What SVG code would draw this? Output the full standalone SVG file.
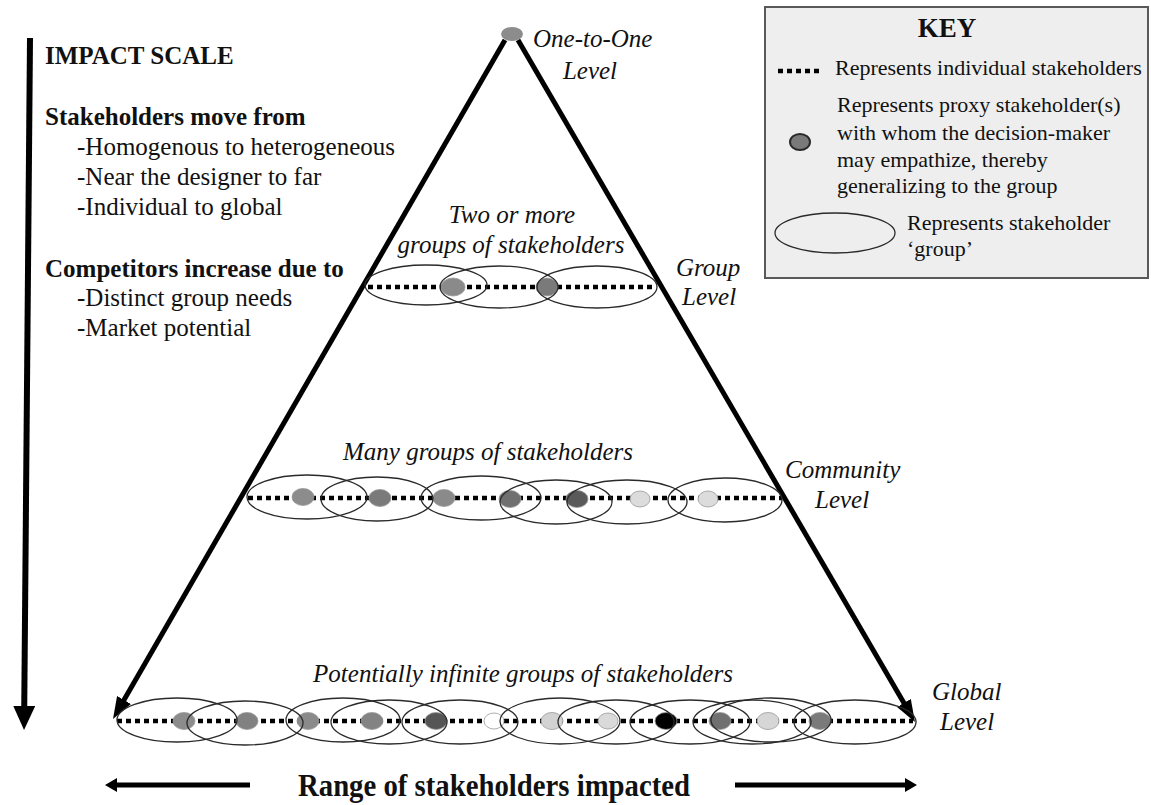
<svg xmlns="http://www.w3.org/2000/svg" width="1151" height="805" viewBox="0 0 1151 805">
  <defs>
    <style>
      .serif { font-family: "Liberation Serif", "Times New Roman", serif; fill: #111; }
      .hd { font-size: 25px; font-weight: bold; }
      .rg { font-size: 25px; }
      .it { font-size: 25px; font-style: italic; }
      .kt { font-size: 22px; }
      .grp { fill: none; stroke: #2a2a2a; stroke-width: 1.3; }
      .ind { fill: none; stroke: #000; stroke-width: 4.5; stroke-dasharray: 5 4; }
      .side { fill: none; stroke: #000; stroke-width: 5; }
      .dot { stroke: #9a9a9a; stroke-width: 0.8; }
    </style>
    <marker id="head" markerUnits="userSpaceOnUse" viewBox="0 0 22 16" refX="5" refY="8" markerWidth="22" markerHeight="16" orient="auto">
      <path d="M0,0 L22,8 L0,16 z" fill="#000"/>
    </marker>
    <marker id="headV" markerUnits="userSpaceOnUse" viewBox="0 0 24 22" refX="5" refY="11" markerWidth="24" markerHeight="22" orient="auto">
      <path d="M0,0 L24,11 L0,22 z" fill="#000"/>
    </marker>
    <marker id="headS" markerUnits="userSpaceOnUse" viewBox="0 0 12 14" refX="3" refY="7" markerWidth="12" markerHeight="14" orient="auto">
      <path d="M0,0 L12,7 L0,14 z" fill="#000"/>
    </marker>
  </defs>

  <rect width="1151" height="805" fill="#fff"/>

  <!-- impact scale arrow and notes -->
  <g id="impact-scale">
    <line x1="30" y1="38" x2="24.2" y2="711" stroke="#000" stroke-width="6" marker-end="url(#headV)"/>
    <text class="serif hd" x="45" y="64">IMPACT SCALE</text>
    <text class="serif hd" x="45" y="125">Stakeholders move from</text>
    <text class="serif rg" x="77" y="155">-Homogenous to heterogeneous</text>
    <text class="serif rg" x="77" y="185">-Near the designer to far</text>
    <text class="serif rg" x="77" y="215">-Individual to global</text>
    <text class="serif hd" x="45" y="277">Competitors increase due to</text>
    <text class="serif rg" x="77" y="306">-Distinct group needs</text>
    <text class="serif rg" x="77" y="336">-Market potential</text>
  </g>

  <!-- pyramid sides -->
  <g id="connectors">
    <line class="side" x1="505" y1="40" x2="121.5" y2="704.3" marker-end="url(#head)"/>
    <line class="side" x1="518" y1="40" x2="906.4" y2="707.3" marker-end="url(#head)"/>
  </g>

  <!-- apex -->
  <g id="level-one">
    <ellipse cx="512" cy="34" rx="11" ry="7" fill="#8c8c8c"/>
    <text class="serif it" x="533" y="47">One-to-One</text>
    <text class="serif it" x="590" y="79" text-anchor="middle">Level</text>
  </g>

  <!-- group level -->
  <g id="level-group">
    <text class="serif it" x="512" y="223" text-anchor="middle">Two or more</text>
    <text class="serif it" x="511" y="253" text-anchor="middle">groups of stakeholders</text>
    <line class="ind" x1="368" y1="287" x2="655" y2="287"/>
    <ellipse class="dot" cx="453" cy="287" rx="12" ry="9" fill="#8a8a8a"/>
    <ellipse class="dot" cx="547" cy="287" rx="11" ry="9" fill="#7a7a7a"/>
    <ellipse class="grp" cx="426" cy="285" rx="61" ry="20"/>
    <ellipse class="grp" cx="499" cy="287" rx="59" ry="21"/>
    <ellipse class="grp" cx="597" cy="287" rx="60" ry="21"/>
    <text class="serif it" x="676" y="276">Group</text>
    <text class="serif it" x="682" y="305">Level</text>
  </g>

  <!-- community level -->
  <g id="level-community">
    <text class="serif it" x="343" y="460">Many groups of stakeholders</text>
    <line class="ind" x1="248" y1="498" x2="782" y2="498"/>
    <ellipse class="dot" cx="303" cy="497" rx="11" ry="8.5" fill="#8c8c8c"/>
    <ellipse class="dot" cx="380" cy="498" rx="11" ry="8.5" fill="#7a7a7a"/>
    <ellipse class="dot" cx="444" cy="498" rx="11" ry="8.5" fill="#8a8a8a"/>
    <ellipse class="dot" cx="510" cy="499" rx="11" ry="8.5" fill="#707070"/>
    <ellipse class="dot" cx="577" cy="499" rx="11" ry="8.5" fill="#5a5a5a"/>
    <ellipse class="dot" cx="640" cy="499" rx="10" ry="8" fill="#dcdcdc"/>
    <ellipse class="dot" cx="708" cy="499" rx="10" ry="8" fill="#dcdcdc"/>
    <ellipse class="grp" cx="307" cy="497" rx="60" ry="22"/>
    <ellipse class="grp" cx="377" cy="499" rx="56" ry="22"/>
    <ellipse class="grp" cx="481" cy="498" rx="60" ry="22"/>
    <ellipse class="grp" cx="556" cy="502" rx="56" ry="22"/>
    <ellipse class="grp" cx="627" cy="502" rx="60" ry="22"/>
    <ellipse class="grp" cx="725" cy="500" rx="57" ry="22"/>
    <text class="serif it" x="785" y="478">Community</text>
    <text class="serif it" x="815" y="508">Level</text>
  </g>

  <!-- global level -->
  <g id="level-global">
    <text class="serif it" x="523" y="682" text-anchor="middle">Potentially infinite groups of stakeholders</text>
    <line class="ind" x1="117" y1="721" x2="913" y2="721"/>
    <ellipse class="dot" cx="184" cy="721" rx="11" ry="8.5" fill="#8c8c8c"/>
    <ellipse class="dot" cx="247" cy="721" rx="11" ry="8.5" fill="#818181"/>
    <ellipse class="dot" cx="308" cy="721" rx="11" ry="8.5" fill="#8a8a8a"/>
    <ellipse class="dot" cx="372" cy="721" rx="11" ry="8.5" fill="#838383"/>
    <ellipse class="dot" cx="436" cy="721" rx="11" ry="8.5" fill="#555"/>
    <ellipse class="dot" cx="494" cy="721" rx="10" ry="8" fill="#fff" stroke="#888" stroke-width="1.2"/>
    <ellipse class="dot" cx="552" cy="721" rx="11" ry="8.5" fill="#d2d2d2"/>
    <ellipse class="dot" cx="608" cy="721" rx="10" ry="8" fill="#dadada"/>
    <ellipse class="dot" cx="666" cy="721" rx="11" ry="8.5" fill="#000"/>
    <ellipse class="dot" cx="720" cy="721" rx="11" ry="8.5" fill="#707070"/>
    <ellipse class="dot" cx="768" cy="721" rx="11" ry="8.5" fill="#d6d6d6"/>
    <ellipse class="dot" cx="820" cy="721" rx="11" ry="8.5" fill="#7a7a7a"/>
    <ellipse class="grp" cx="177" cy="720" rx="60" ry="22"/>
    <ellipse class="grp" cx="245" cy="723" rx="58" ry="22"/>
    <ellipse class="grp" cx="343" cy="720" rx="57" ry="22"/>
    <ellipse class="grp" cx="389" cy="722" rx="58" ry="22"/>
    <ellipse class="grp" cx="460" cy="722" rx="58" ry="22"/>
    <ellipse class="grp" cx="560" cy="721" rx="60" ry="23"/>
    <ellipse class="grp" cx="616" cy="722" rx="58" ry="22"/>
    <ellipse class="grp" cx="690" cy="722" rx="60" ry="22"/>
    <ellipse class="grp" cx="752" cy="722" rx="59" ry="22"/>
    <ellipse class="grp" cx="771" cy="720" rx="60" ry="22"/>
    <ellipse class="grp" cx="855" cy="722" rx="61" ry="22"/>
    <text class="serif it" x="932" y="700">Global</text>
    <text class="serif it" x="940" y="730">Level</text>
  </g>

  <!-- legend -->
  <g id="key">
    <rect x="765" y="7" width="383" height="271" fill="#eeeeee" stroke="#595959" stroke-width="2"/>
    <text class="serif" x="947" y="37" font-size="27" font-weight="bold" text-anchor="middle">KEY</text>
    <line class="ind" x1="778" y1="71" x2="821" y2="71" stroke-dasharray="4.5 4"/>
    <text class="serif kt" x="835" y="75">Represents individual stakeholders</text>
    <ellipse cx="800" cy="142" rx="10" ry="8" fill="#7a7a7a" stroke="#2a2a2a" stroke-width="2"/>
    <text class="serif kt" x="837" y="112">Represents proxy stakeholder(s)</text>
    <text class="serif kt" x="837" y="140">with whom the decision-maker</text>
    <text class="serif kt" x="837" y="167">may empathize, thereby</text>
    <text class="serif kt" x="837" y="193">generalizing to the group</text>
    <ellipse class="grp" cx="835" cy="233" rx="60" ry="20"/>
    <text class="serif kt" x="907" y="230">Represents stakeholder</text>
    <text class="serif kt" x="907" y="256">‘group’</text>
  </g>

  <!-- range of stakeholders -->
  <g id="range">
    <line x1="250" y1="785" x2="114" y2="785" stroke="#000" stroke-width="5" marker-end="url(#headS)"/>
    <line x1="735" y1="785" x2="908" y2="785" stroke="#000" stroke-width="5" marker-end="url(#headS)"/>
    <text class="serif" x="298" y="796" font-size="32" font-weight="bold" textLength="392" lengthAdjust="spacingAndGlyphs">Range of stakeholders impacted</text>
  </g>
</svg>
